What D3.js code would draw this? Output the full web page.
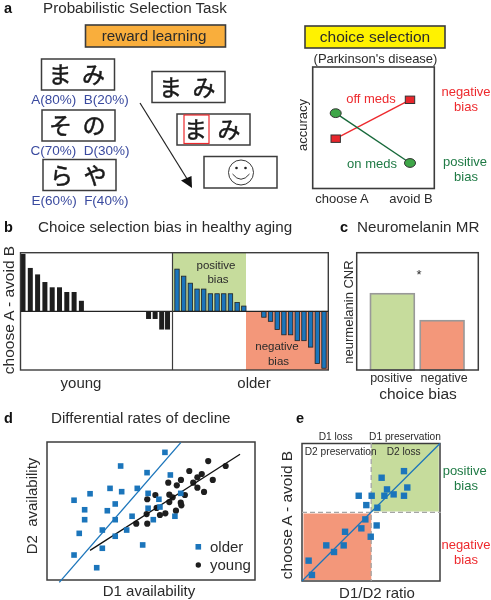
<!DOCTYPE html>
<html><head><meta charset="utf-8">
<style>html,body{margin:0;padding:0;background:#fff}svg{display:block;filter:blur(0.3px)}text{font-family:"Liberation Sans",Arial,sans-serif;fill:#2b2b2b}</style>
<script src="https://cdn.jsdelivr.net/npm/d3@7"></script>
</head><body><svg id="c" width="491" height="600"></svg>
<script>
// Panel a
const stimulusPairs=[["ま","み"],["そ","の"],["ら","や"]];
const stimulusLabels=["A(80%)  B(20%)","C(70%)  D(30%)","E(60%)  F(40%)"];
const choiceCats=["choose A","avoid B"];
const offMeds=[0.41,0.73];
const onMeds=[0.62,0.21];
// Panel b
const youngRanks=[0,1,2,3,4,5,6,7,8,17.2,18.1,19,19.8];
const youngVals=[0.98,0.74,0.63,0.50,0.41,0.41,0.33,0.33,0.18,-0.13,-0.13,-0.31,-0.31];
const olderRanks=[0,1,2,3,4,5,6,7,8,9,10,13,14,15,16,17,18,19,20,21,22];
const olderVals=[0.72,0.60,0.48,0.38,0.38,0.30,0.30,0.30,0.30,0.15,0.09,-0.10,-0.17,-0.31,-0.40,-0.40,-0.50,-0.50,-0.61,-0.89,-0.97];
// Panel c
const biasCats=["positive","negative"];
const cnrVals=[0.65,0.42];
// Panel d
const olderD1=[35.4,48.1,13,20.7,30.3,35.9,43.4,48.6,18.1,29,32.8,48.6,18.1,32.8,40.9,15.5,26.6,38.3,32.8,46,13,26.6,23.9,56.7,59.3,64.3,53.8,54.3,61.5,51.1];
const olderD2=[82.6,77.8,57.8,62.5,66.4,64,66.4,62.8,50.9,50.2,55.1,52,43.7,43.7,46.2,33.8,36.2,36.2,31.7,25.4,18.1,23,8.9,92.5,76.1,62.8,58.5,52.9,46.2,43.7];
const youngD1=[77.5,85.9,68.4,74.4,72.3,64.4,58.3,62.4,70.3,79.7,72.3,75.5,66.3,58.8,60.4,52.1,48.2,58.8,64.3,64.6,52.7,62,47.9,54.3,56.9,48.2,42.9];
const youngD2=[86.2,82.6,79,76.8,74.4,72.5,70.5,68.6,70.5,72.5,66.9,63.8,61.6,61.8,59.9,61.6,58.5,56.5,56,54.1,52.2,50.2,47.8,47.1,48.3,40.8,40.8];
const olderFitX=[5.9,64.3], olderFitY=[-1.7,99.5];
const youngFitX=[20.7,92.8], youngFitY=[21.5,91.1];
// Panel e
const ratio=[73.9,57.7,76.3,61.6,59.7,66.4,73.9,41.1,50.5,46.6,54.6,45.9,54.1,43,31.2,49.8,17.6,30.2,23.2,4.8,7.2];
const bias=[79.9,75.1,68,66.6,62,63,62,62,62,55.2,53.3,44.8,40.4,38.3,35.8,32.2,25.9,25.9,21.1,14.8,4.4];

const BLUE="#1b75bb",GREEN="#c6dc9c",ORANGE="#f3977a",FRAME="#3c3c3c",RED="#ed2a2e",DGREEN="#1f7a45",NAVY="#3a4a9f";
const svg=d3.select("#c");
function T(s,x,y,size,o={}){
  const t=svg.append("text").attr("x",x).attr("y",y).attr("font-size",size).text(s)
    .attr("text-anchor",o.anchor||"start").style("fill",o.fill||"#2b2b2b");
  if(o.weight)t.attr("font-weight",o.weight);
  if(o.family)t.style("font-family",o.family);
  if(o.stroke)t.style("stroke",o.stroke).style("stroke-width",0.5);
  if(o.rot)t.attr("transform",`rotate(-90 ${x} ${y})`);
  t.style("white-space","pre");
  return t;
}
function R(x,y,w,h,fill,stroke,sw){
  return svg.append("rect").attr("x",x).attr("y",y).attr("width",w).attr("height",h)
    .attr("fill",fill||"none").attr("stroke",stroke||"none").attr("stroke-width",sw||0);
}
function squares(g,xs,ys,sx,sy,size,fill){
  g.selectAll(null).data(xs).join("rect")
    .attr("x",(d)=>sx(d)-size/2).attr("y",(d,i)=>sy(ys[i])-size/2)
    .attr("width",size).attr("height",size).attr("fill",fill);
}
const M={font:15.2};

/* ---------- a ---------- */
T("a",4,13,14.5,{weight:"bold",fill:"#111"});
T("Probabilistic Selection Task",43,13,M.font);
R(85.5,25,140,22,"#f9ae3c",FRAME,1.6);
T("reward learning",154,41,15.2,{anchor:"middle"});
R(305,26,140,22,"#fff200",FRAME,1.6);
T("choice selection",375,42,15.5,{anchor:"middle"});
T("(Parkinson's disease)",375.5,63,13,{anchor:"middle"});

const CJK='"Noto Sans CJK JP",sans-serif';
function kanaBox(x,y,w,h,pair){
  R(x,y,w,h,"#fff",FRAME,1.5);
  const kx=d3.scalePoint().domain(pair).range([x+18.5,x+52]);
  pair.forEach(k=>T(k,kx(k),y+h/2+8.5,23,{anchor:"middle",family:CJK,fill:"#1a1a1a",stroke:"#1a1a1a"}));
}
const boxX=[41.5,42,43], boxY=[59,110,159.5];
stimulusPairs.forEach((p,i)=>{
  kanaBox(boxX[i],boxY[i],73,31,p);
  T(stimulusLabels[i],80,boxY[i]+45,13.5,{anchor:"middle",fill:NAVY});
});
kanaBox(152,71.5,73,31,stimulusPairs[0]);
kanaBox(177,114,73,31,stimulusPairs[0]);
R(184,115,25,28.5,"none",RED,1.2);
R(204,156.5,73,31.5,"#fff",FRAME,1.5);
svg.append("circle").attr("cx",241).attr("cy",172.5).attr("r",12.5).attr("fill","#fff").attr("stroke","#222").attr("stroke-width",0.9);
[-4.5,4.5].forEach(d=>svg.append("circle").attr("cx",241+d).attr("cy",168).attr("r",1.3).attr("fill","#222"));
svg.append("path").attr("d","M232.5,174 Q241,184.5 249.5,174").attr("fill","none").attr("stroke","#222").attr("stroke-width",0.9);
svg.append("line").attr("x1",140).attr("y1",103).attr("x2",189).attr("y2",182).attr("stroke","#222").attr("stroke-width",1.2);
svg.append("path").attr("d","M192,188 L181,180.5 L191.5,176 Z").attr("fill","#111");

R(312.7,67,121.6,121.5,"#fff",FRAME,1.6);
const ax=d3.scalePoint().domain(choiceCats).range([335.7,410]);
const ay=d3.scaleLinear().domain([0,1]).range([188.5,67]);
svg.append("path").datum(offMeds).attr("fill","none").attr("stroke",RED).attr("stroke-width",1.4)
  .attr("d",d3.line().x((d,i)=>ax(choiceCats[i])).y(d=>ay(d)));
svg.append("path").datum(onMeds).attr("fill","none").attr("stroke","#17693a").attr("stroke-width",1.4)
  .attr("d",d3.line().x((d,i)=>ax(choiceCats[i])).y(d=>ay(d)));
offMeds.forEach((v,i)=>R(ax(choiceCats[i])-4.7,ay(v)-3.7,9.4,7.4,"#e8262c","#333",1));
onMeds.forEach((v,i)=>svg.append("ellipse").attr("cx",ax(choiceCats[i])).attr("cy",ay(v)).attr("rx",5.5).attr("ry",4.4)
  .attr("fill","#3fa648").attr("stroke","#333").attr("stroke-width",1));
T("off meds",371,103,13,{anchor:"middle",fill:RED});
T("on meds",372,168,13,{anchor:"middle",fill:DGREEN});
T("negative",466,96,13,{anchor:"middle",fill:RED});
T("bias",466,111,13,{anchor:"middle",fill:RED});
T("positive",465,166,13,{anchor:"middle",fill:DGREEN});
T("bias",466,181,13,{anchor:"middle",fill:DGREEN});
T("accuracy",306.5,125,13,{anchor:"middle",rot:true});
choiceCats.forEach(c=>T(c,c==="choose A"?342:ax(c)+1,203,13,{anchor:"middle"}));

/* ---------- b ---------- */
T("b",4,232,14.5,{weight:"bold",fill:"#111"});
T("Choice selection bias in healthy aging",38,232,M.font);
const by=d3.scaleLinear().domain([-1,1]).range([370,252.7]);
const yx=d3.scaleLinear().domain([0,20]).range([23,169]);
const ox=d3.scaleLinear().domain([0,22]).range([177,324]);
R(172.5,253,73.5,by(0)-253,GREEN);
R(246,by(0),82.3,370-by(0),ORANGE);
const barG=svg.append("g");
barG.selectAll(null).data(youngRanks).join("rect")
  .attr("x",d=>yx(d)-2.5).attr("width",5)
  .attr("y",(d,i)=>Math.min(by(youngVals[i]),by(0)))
  .attr("height",(d,i)=>Math.abs(by(youngVals[i])-by(0)))
  .attr("fill","#1e1e1e");
barG.selectAll(null).data(olderRanks).join("rect")
  .attr("x",d=>ox(d)-2.2).attr("width",4.4)
  .attr("y",(d,i)=>Math.min(by(olderVals[i]),by(0)))
  .attr("height",(d,i)=>Math.abs(by(olderVals[i])-by(0)))
  .attr("fill",BLUE).attr("stroke","#222").attr("stroke-width",0.8);
R(20.5,252.7,307.8,117.3,"none",FRAME,1.4);
svg.append("line").attr("x1",20.5).attr("x2",328.3).attr("y1",by(0)).attr("y2",by(0)).attr("stroke","#222").attr("stroke-width",1.2);
svg.append("line").attr("x1",172.5).attr("x2",172.5).attr("y1",252.7).attr("y2",370).attr("stroke",FRAME).attr("stroke-width",1.2);
T("positive",216,269,11.5,{anchor:"middle"});
T("bias",218,283,11.5,{anchor:"middle"});
T("negative",277,350,11.5,{anchor:"middle"});
T("bias",278.5,365,11.5,{anchor:"middle"});
T("choose A - avoid B",13.5,310,15.5,{anchor:"middle",rot:true});
T("young",81,388,15,{anchor:"middle"});
T("older",254,388,15,{anchor:"middle"});

/* ---------- c ---------- */
T("c",340,232,14.5,{weight:"bold",fill:"#111"});
T("Neuromelanin MR",357,232,M.font);
const cx=d3.scaleBand().domain(biasCats).range([369,465.5]).paddingInner(0.12).paddingOuter(0.03);
const cy=d3.scaleLinear().domain([0,1]).range([370,252.7]);
const biasFill=[GREEN,ORANGE];
svg.append("g").selectAll(null).data(biasCats).join("rect")
  .attr("x",d=>cx(d)).attr("width",cx.bandwidth())
  .attr("y",(d,i)=>cy(cnrVals[i])).attr("height",(d,i)=>cy(0)-cy(cnrVals[i]))
  .attr("fill",(d,i)=>biasFill[i]).attr("stroke","#999").attr("stroke-width",1.6);
R(356.7,252.7,121.6,117.3,"none",FRAME,1.5);
T("*",419,279,13,{anchor:"middle"});
T("neurmelanin CNR",353,312,13,{anchor:"middle",rot:true});
biasCats.forEach(c=>T(c,cx(c)+cx.bandwidth()/2+(c==="negative"?2:-1),382,12.5,{anchor:"middle"}));
T("choice bias",418,398.5,15.5,{anchor:"middle"});

/* ---------- d ---------- */
T("d",4,423,14.5,{weight:"bold",fill:"#111"});
T("Differential rates of decline",51,423,M.font);
const dx=d3.scaleLinear().domain([0,100]).range([47,255]);
const dy=d3.scaleLinear().domain([0,100]).range([580,442]);
R(47,442,208,138,"#fff",FRAME,1.5);
const dG=svg.append("g");
const ln=d3.line().x(d=>dx(d[0])).y(d=>dy(d[1]));
dG.append("path").attr("d",ln(d3.zip(olderFitX,olderFitY))).attr("stroke",BLUE).attr("stroke-width",1.3).attr("fill","none");
dG.selectAll(null).data(youngD1).join("circle")
  .attr("cx",d=>dx(d)).attr("cy",(d,i)=>dy(youngD2[i])).attr("r",3.1).attr("fill","#1e1e1e");
dG.append("path").attr("d",ln(d3.zip(youngFitX,youngFitY))).attr("stroke","#111").attr("stroke-width",1.3).attr("fill","none");
squares(dG,olderD1,olderD2,dx,dy,5.6,BLUE);
R(195.5,544,5.6,5.6,BLUE);
T("older",210,552,15);
svg.append("circle").attr("cx",198.3).attr("cy",565).attr("r",2.7).attr("fill","#1e1e1e");
T("young",210,570,15);
T("D2  availability",37,506,15,{anchor:"middle",rot:true});
T("D1 availability",149,595.5,15,{anchor:"middle"});

/* ---------- e ---------- */
T("e",296,423,14.5,{weight:"bold",fill:"#111"});
const ex=d3.scaleLinear().domain([0,100]).range([302,440]);
const ey=d3.scaleLinear().domain([0,100]).range([581,443.5]);
R(371.3,444,67.5,67.5,GREEN);
R(303.5,513.5,67.8,66.5,ORANGE);
R(302,443.5,138,137.5,"none",FRAME,1.5);
svg.append("line").attr("x1",371.2).attr("x2",371.2).attr("y1",443).attr("y2",581).attr("stroke","#a5a5a5").attr("stroke-width",1.3).attr("stroke-dasharray","5 3");
svg.append("line").attr("x1",302).attr("x2",441).attr("y1",512.3).attr("y2",512.3).attr("stroke","#a5a5a5").attr("stroke-width",1.3).attr("stroke-dasharray","5 3");
svg.append("line").attr("x1",ex(0)).attr("y1",ey(0)).attr("x2",ex(100)).attr("y2",ey(100)).attr("stroke",BLUE).attr("stroke-width",1.3);
squares(svg.append("g"),ratio,bias,ex,ey,6.4,BLUE);
T("D1 loss",335.7,440,10.2,{anchor:"middle"});
T("D1 preservation",405,440,10.2,{anchor:"middle"});
T("D2 preservation",340.7,455,10.2,{anchor:"middle"});
T("D2 loss",403.7,455,10.2,{anchor:"middle"});
T("positive",464.7,475,13,{anchor:"middle",fill:DGREEN});
T("bias",466,490,13,{anchor:"middle",fill:DGREEN});
T("negative",466,549,13,{anchor:"middle",fill:RED});
T("bias",466,564,13,{anchor:"middle",fill:RED});
T("choose A - avoid B",292,515,15.5,{anchor:"middle",rot:true});
T("D1/D2 ratio",377,598,15,{anchor:"middle"});
</script></body></html>
